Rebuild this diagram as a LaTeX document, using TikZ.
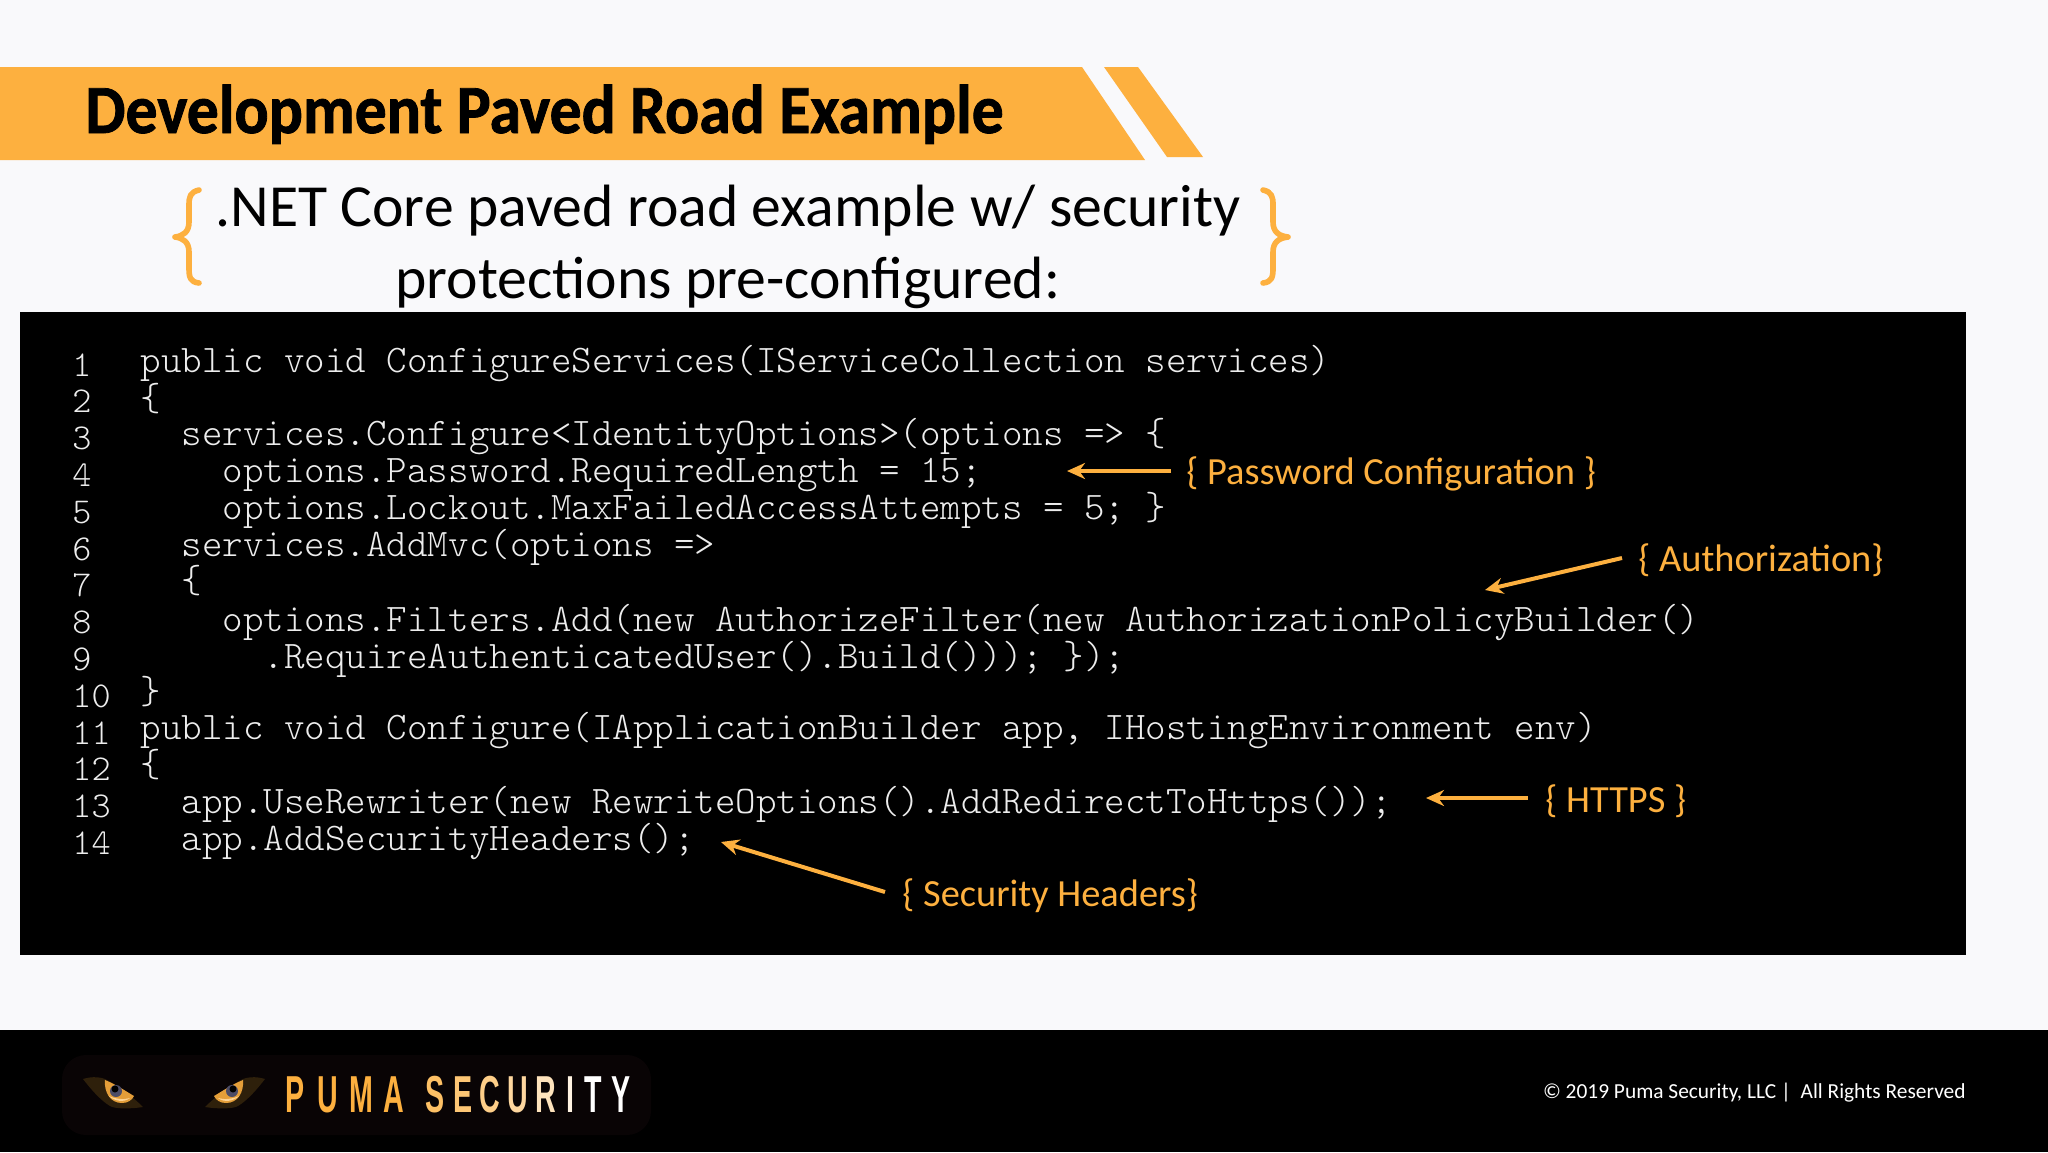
\documentclass[tikz,border=0pt]{standalone}
\usepackage{fontspec}
\usetikzlibrary{arrows.meta,calc}
\setmainfont{Carlito}
\newfontfamily\titlefont[FakeStretch=0.923,FakeBold=1.2]{Carlito Bold}
\newfontfamily\logofont[FakeStretch=0.55,Kerning=Off]{Liberation Sans Bold}
\newfontfamily\codefont{Latin Modern Mono Light}
\definecolor{puma}{HTML}{FDB03F}
\definecolor{pagebg}{HTML}{F9F9FB}
\definecolor{codecol}{HTML}{EDEDED}
\definecolor{logobg}{HTML}{090405}
\newcommand{\lgl}[3]{\makebox[#2pt][l]{\textcolor{#1}{#3}}}
\newcommand{\pumaeye}{%
  \fill[black!82!puma] (83,1079) .. controls (92,1076) and (102,1077) .. (107,1080) .. controls (118,1086) and (132,1096) .. (143,1107) .. controls (130,1109) and (115,1109) .. (110,1106) .. controls (100,1100) and (90,1088) .. (83,1079) -- cycle;
  \fill[puma!90!black] (105,1080) .. controls (104,1092) and (110,1103) .. (122,1103) .. controls (128,1103) and (132,1100) .. (134,1096) .. controls (124,1090) and (115,1084) .. (105,1080) -- cycle;
  \fill[puma!55!white] (109,1096) .. controls (114,1101) and (124,1103) .. (130,1098) .. controls (124,1100) and (115,1099) .. (109,1096) -- cycle;
  \fill[black!75!blue!40!gray] (116,1091) circle[radius=6];
  \fill[black] (115,1089) circle[radius=3.5];
}
\tikzset{
  x=0.5pt,y=-0.5pt,
  codeline/.style={anchor=base west,inner sep=0pt,text=codecol,font=\codefont\fontsize{19.53}{20}\selectfont},
  numline/.style={anchor=base west,inner sep=0pt,text=codecol,font=\codefont\fontsize{18.2}{18}\selectfont},
  note/.style={anchor=base west,inner sep=0pt,text=puma,font=\fontsize{19.2}{20}\selectfont},
  arr/.style={draw=puma,line width=2pt,-{Stealth[length=9pt,width=8pt]}},
  brace/.style={draw=puma,line width=2.8pt,line cap=round,line join=round},
  subtitle/.style={anchor=base west,inner sep=0pt,text=black,font=\fontsize{29.85}{30}\selectfont}
}
\begin{document}
\begin{tikzpicture}
\useasboundingbox (0,0) rectangle (2048,1152);
\fill[pagebg] (0,0) rectangle (2048,1152);
% banner
\fill[puma] (0,67) -- (1082,67) -- (1145,160) -- (0,160) -- cycle;
\fill[puma] (1104,67) -- (1138,67) -- (1203,157) -- (1167,157) -- cycle;
\node[anchor=base west,inner sep=0pt,font=\titlefont\fontsize{34.5}{36}\selectfont] (title) at (85,133) {Development Paved Road Example};
% subtitle
\node[subtitle] (sub1) at (215,226) {.NET Core paved road example w/ security};
\node[subtitle] (sub2) at (395,298) {protections pre-configured:};
\draw[brace] (199,190) .. controls (190,192) and (189,197) .. (189,205) -- (189,222) .. controls (189,232) and (183,236) .. (175,237) .. controls (183,238) and (189,242) .. (189,252) -- (189,268) .. controls (189,277) and (190,282) .. (199,283);
\draw[brace] (1263,190) .. controls (1272,192) and (1273,197) .. (1273,205) -- (1273,222) .. controls (1273,232) and (1279,236) .. (1288,237) .. controls (1279,238) and (1273,242) .. (1273,252) -- (1273,268) .. controls (1273,277) and (1272,282) .. (1263,283);
% code panel
\fill[black] (20,312) rectangle (1966,955);
\foreach \n [count=\i from 0] in {1,...,14}{
  \node[numline] (num\n) at (72,376+36.8*\i) {\n};
}
\node[codeline] (c1) at (140.5,372) {public void ConfigureServices(IServiceCollection services)};
\node[codeline] (c2) at (140.5,410) {\{};
\node[codeline] (c3) at (140.5,445.6) {\ \ services.Configure<IdentityOptions>(options => \{};
\node[codeline] (c4) at (140.5,482.4) {\ \ \ \ options.Password.RequiredLength = 15;};
\node[codeline] (c5) at (140.5,519.2) {\ \ \ \ options.Lockout.MaxFailedAccessAttempts = 5; \}};
\node[codeline] (c6) at (140.5,556) {\ \ services.AddMvc(options =>};
\node[codeline] (c7) at (140.5,592.8) {\ \ \{};
\node[codeline] (c8) at (140.5,631) {\ \ \ \ options.Filters.Add(new AuthorizeFilter(new AuthorizationPolicyBuilder()};
\node[codeline] (c9) at (140.5,668.5) {\ \ \ \ \ \ .RequireAuthenticatedUser().Build())); \});};
\node[codeline] (c10) at (140.5,703.2) {\}};
\node[codeline] (c11) at (140.5,739) {public void Configure(IApplicationBuilder app, IHostingEnvironment env)};
\node[codeline] (c12) at (140.5,776.8) {\{};
\node[codeline] (c13) at (140.5,813.6) {\ \ app.UseRewriter(new RewriteOptions().AddRedirectToHttps());};
\node[codeline] (c14) at (140.5,850.4) {\ \ app.AddSecurityHeaders();};
% annotations
\node[note] (npw) at (1186,484) {\{ Password Configuration \}};
\node[note] (nau) at (1638,571) {\{ Authorization\}};
\node[note] (nht) at (1545,812) {\{ HTTPS \}};
\node[note] (nsh) at (902,906) {\{ Security Headers\}};
\coordinate (tpw) at (1067,471);
\coordinate (tau) at (1485,590);
\coordinate (tht) at (1426,798);
\coordinate (tsh) at (721,842);
\coordinate (spw) at (1171,471);
\coordinate (sau) at (1622,558);
\coordinate (sht) at (1528,798);
\coordinate (ssh) at (885,892);
\draw[arr] (spw) -- (tpw);
\draw[arr] (sau) -- (tau);
\draw[arr] (sht) -- (tht);
\draw[arr] (ssh) -- (tsh);
% footer
\fill[black] (0,1030) rectangle (2048,1152);
\fill[logobg,rounded corners=12pt] (62,1055) rectangle (651,1135);
% eyes
\pumaeye
\begin{scope}[xshift=174pt,xscale=-1]
\pumaeye
\end{scope}
\node[anchor=base west,inner sep=0pt,font=\logofont\fontsize{26}{28}\selectfont] (logo) at (285,1112) {\lgl{puma}{16}{P}\lgl{puma}{16}{U}\lgl{puma}{17}{M}\lgl{puma}{17}{A} \lgl{puma!80!white}{14}{S}\lgl{puma!72!white}{13}{E}\lgl{puma!62!white}{14}{C}\lgl{puma!50!white}{14}{U}\lgl{puma!35!white}{15.5}{R}\lgl{puma!15!white}{9}{I}\lgl{white}{13.5}{T}\lgl{white}{14}{Y}};
\node[anchor=base east,inner sep=0pt,text=white,font=\fontsize{10.7}{12}\selectfont] (copy) at (1966,1098) {© 2019 Puma Security, LLC |\ \ All Rights Reserved};
\end{tikzpicture}
\end{document}
